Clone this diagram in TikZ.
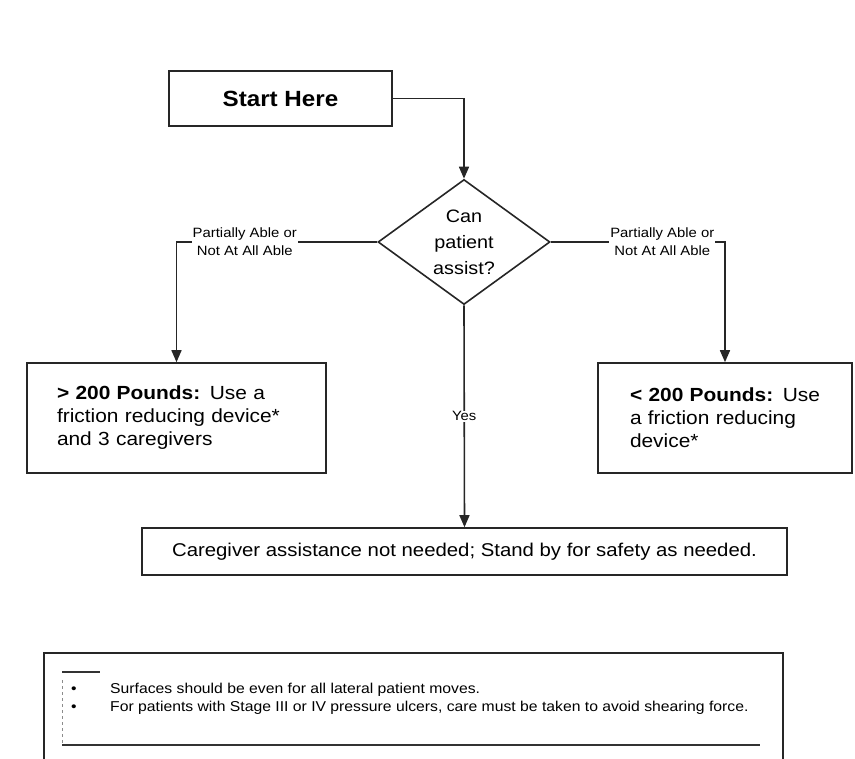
\documentclass[tikz,border=0pt]{standalone}
\usepackage{fontspec}
\setmainfont{Liberation Sans}[FakeStretch=1.1]
\usetikzlibrary{shapes.geometric,arrows.meta}

\tikzset{
  frame/.style={draw=black!85, line width=1.6pt},
  startbox/.style={frame, minimum width=223pt, minimum height=55pt, inner sep=0pt,
    font=\fontsize{22}{26}\selectfont\bfseries},
  decision/.style={frame, diamond, minimum width=172pt, minimum height=125pt, inner sep=0pt,
    align=center, font=\fontsize{18}{26}\selectfont},
  actionbox/.style={frame, minimum height=110pt, inner ysep=0pt, align=left,
    font=\fontsize{19}{23}\selectfont},
  flowline/.style={draw=black!85, line width=1.6pt},
  arr/.style={flowline, -{Triangle[length=12pt,width=10pt]}},
  choice/.style={fill=white, inner sep=1pt, align=center, font=\fontsize{13.5}{18}\selectfont},
  notetext/.style={align=left, inner sep=0pt, anchor=north west, font=\fontsize{14.3}{18}\selectfont}
}

\begin{document}
\begin{tikzpicture}[x=1pt, y=-1pt]
  \useasboundingbox (0,0) rectangle (855,759);

  % flow nodes
  \node[startbox] (start) at (280.5,98.5) {Start Here};
  \node[decision] (assist) at (464,242) {\makebox[0pt]{Can}\\\makebox[0pt]{patient}\\\makebox[0pt]{assist?}};
  \node[actionbox, text width=239pt, inner xsep=30pt] (heavy) at (176.5,418)
    {\textbf{> 200 Pounds:} Use a\\friction reducing device*\\and 3 caregivers};
  \node[actionbox, text width=190pt, inner xsep=32pt] (light) at (725,418)
    {\textbf{< 200 Pounds:} Use\\a friction reducing\\device*};
  \node[frame, minimum width=645pt, minimum height=47pt, inner sep=0pt,
    font=\fontsize{18.5}{22}\selectfont] (standby) at (464.5,551.5)
    {Caregiver assistance not needed; Stand by for safety as needed.};

  % connectors
  \draw[arr] (start.east) -| (assist.north);
  \draw[arr] (assist.west) -| node[choice, pos=0.33] (leftlabel) {Partially Able or\\Not At All Able} (heavy.north);
  \draw[arr] (assist.east) -| node[choice, pos=0.32] (rightlabel) {Partially Able or\\Not At All Able} (light.north);
  \draw[arr] (assist.south) -- node[choice] (yes) {Yes} (standby.north);

  % notes panel
  \draw[frame] (44,765) |- (783,653) -- (783,765);
  \draw[line width=1.2pt, black!80] (62,672) -- (100,672);
  \draw[line width=0.6pt, black!45, dashed] (62,680) -- (62,745);
  \draw[line width=1.6pt, black!80] (62,745) -- (760,745);
  \node[notetext] (notes) at (71,683)
    {\makebox[39pt][l]{\textbullet}Surfaces should be even for all lateral patient moves.\\
     \makebox[39pt][l]{\textbullet}For patients with Stage III or IV pressure ulcers, care must be taken to avoid shearing force.};
\end{tikzpicture}
\end{document}
